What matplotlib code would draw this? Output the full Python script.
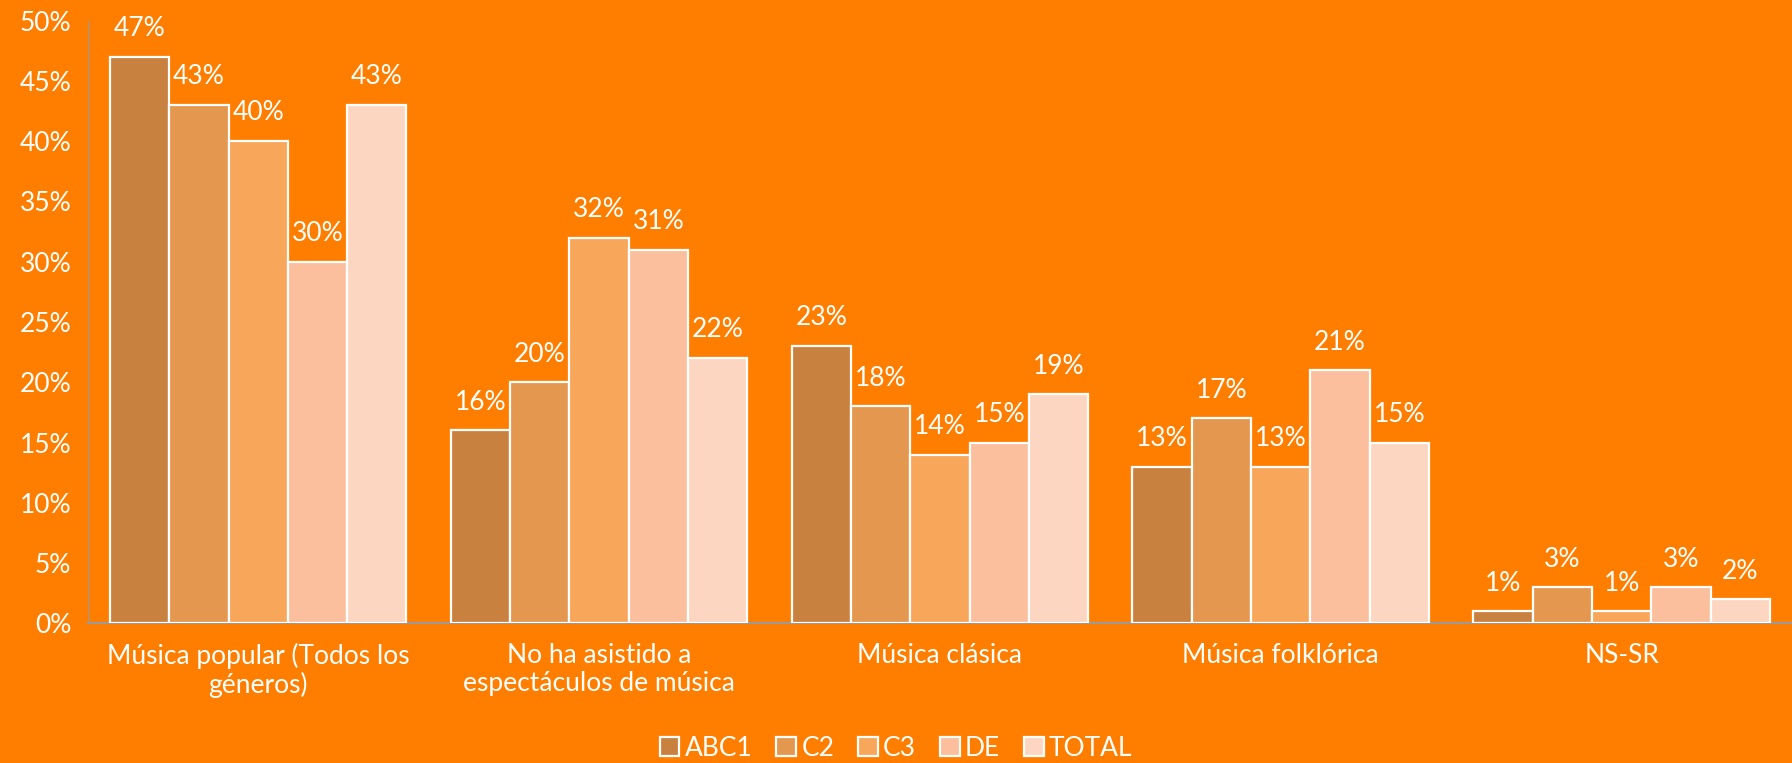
import numpy as np
import matplotlib.pyplot as plt

# Categories and series (percent)
categories = ["Música popular (Todos los\ngéneros)", "No ha asistido a\nespectáculos de música",
              "Música clásica", "Música folklórica", "NS-SR"]
series_names = ["ABC1", "C2", "C3", "DE", "TOTAL"]
abc1 = [47, 16, 23, 13, 1]
c2 = [43, 20, 18, 17, 3]
c3 = [40, 32, 14, 13, 1]
de = [30, 31, 15, 21, 3]
total = [43, 22, 19, 15, 2]
yticks = [0, 5, 10, 15, 20, 25, 30, 35, 40, 45, 50]

colors = ["#C8813F", "#E3974F", "#F8A65A", "#FBBF9D", "#FCD6C0"]
bg = "#FF7E00"

plt.rcParams['font.family'] = ['Lato', 'DejaVu Sans']

fig = plt.figure(figsize=(17.92, 7.63), dpi=100, facecolor=bg)
ax = fig.add_axes([0.049, 0.183, 0.951, 0.79], facecolor=bg)

x = np.arange(len(categories))
width = 0.174
all_series = [abc1, c2, c3, de, total]
for i, (name, vals) in enumerate(zip(series_names, all_series)):
    pos = x + (i - 2) * width
    bars = ax.bar(pos, vals, width, color=colors[i], edgecolor="white",
                  linewidth=1.6, label=name, zorder=3)
    for b, v in zip(bars, vals):
        ax.text(b.get_x() + b.get_width() / 2, v + 1.3, f"{v}%", ha="center",
                va="bottom", color="white", fontsize=19)

ax.set_xlim(-0.5, len(categories) - 0.5)
ax.set_ylim(0, 50)
ax.set_yticks(yticks)
ax.set_yticklabels([f"{t}%" for t in yticks])
ax.set_xticks(x)
ax.set_xticklabels(categories, fontsize=19, color="white", linespacing=1.15)
ax.tick_params(axis="y", colors="white", labelsize=19, length=0, pad=12)
ax.tick_params(axis="x", length=0, pad=14)

for s in ["top", "right"]:
    ax.spines[s].set_visible(False)
ax.spines["left"].set_color("#9A9A9A")
ax.spines["bottom"].set_color("#9A9A9A")
ax.spines["bottom"].set_linewidth(1.5)

leg = fig.legend(loc="lower center", bbox_to_anchor=(0.5, -0.028), ncol=5, frameon=False,
                 fontsize=19, handlelength=0.75, handleheight=0.75, handletextpad=0.2,
                 columnspacing=0.9)
for t in leg.get_texts():
    t.set_color("white")

fig.savefig("out.png", dpi=100, facecolor=bg)
